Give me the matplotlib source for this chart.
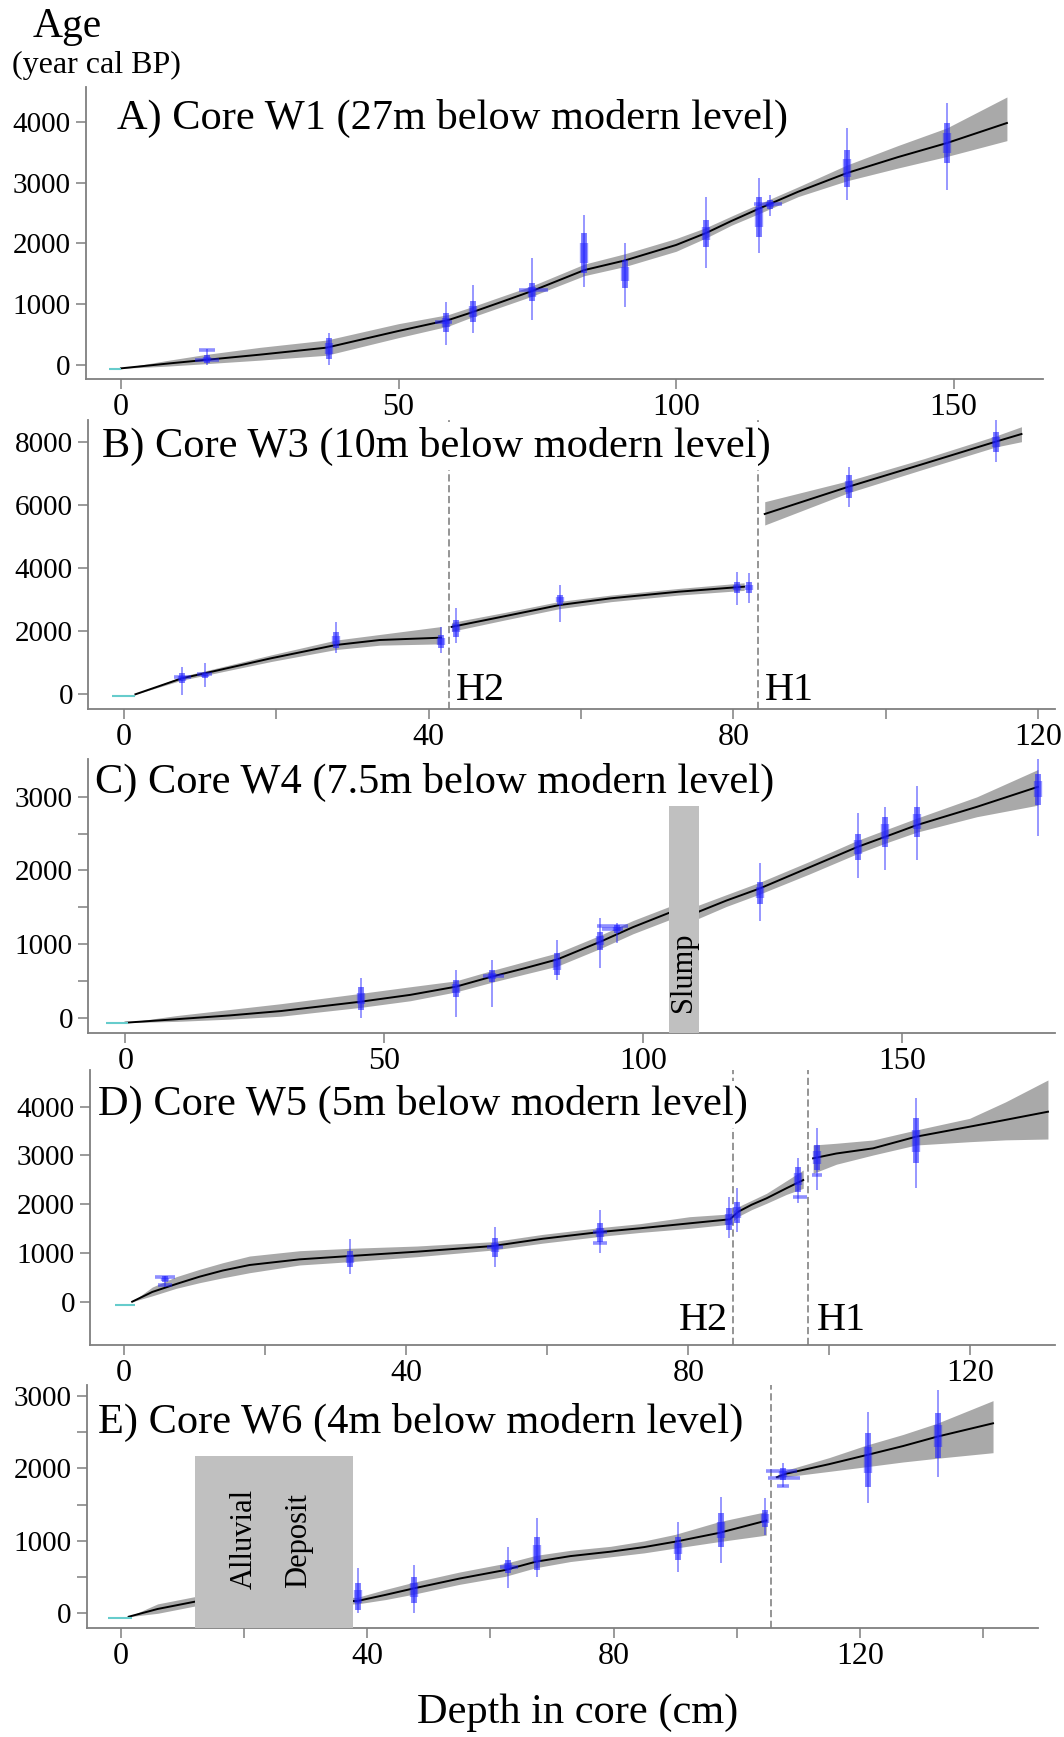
import matplotlib.pyplot as plt

plt.rcParams['font.family'] = ['Liberation Serif', 'DejaVu Serif']

W, H = 1064, 1737
BLUE = '#1f1fff'
BAND = '#a9a9a9'
TEAL = '#66cccc'

# ---------------- A) Core W1 ----------------
a_depth = [0, 8, 15, 25, 37, 50, 59, 63, 68, 74, 83.5, 90.8, 100, 105.4, 110, 115.2, 122, 130.8, 140, 148.8, 159.6]
a_mean = [-55, 20, 82, 170, 285, 560, 740, 860, 1020, 1215, 1562, 1720, 1974, 2171, 2370, 2582, 2850, 3158, 3420, 3651, 3980]
a_lo = [-55, -20, 20, 80, 160, 450, 640, 780, 940, 1130, 1470, 1620, 1870, 2090, 2300, 2500, 2770, 3030, 3240, 3430, 3690]
a_hi = [-55, 70, 170, 290, 410, 680, 830, 950, 1110, 1300, 1660, 1830, 2080, 2260, 2450, 2660, 2930, 3290, 3610, 3900, 4408]
a_dd = [15.5, 37.4, 58.5, 63.5, 74, 83.5, 90.8, 105.4, 115, 117, 130.8, 148.8]
a_thin_lo = [0, 0, 330, 525, 740, 1288, 959, 1595, 1842, 2450, 2714, 2878]
a_thin_hi = [260, 525, 1040, 1315, 1760, 2467, 2012, 2768, 3075, 2800, 3898, 4309]
a_thick_lo = [40, 100, 550, 700, 1050, 1513, 1262, 1945, 2110, 2560, 2933, 3322]
a_thick_hi = [160, 450, 850, 1050, 1350, 2171, 1727, 2385, 2768, 2720, 3536, 3980]
a_hb_from = [13.3, 14.0, 56.5, 71.7, 114.0]
a_hb_to = [17.7, 17.0, 59.6, 76.9, 119.0]
a_hb_age = [90, 250, 700, 1230, 2650]
a_top = [-2.2, 0.0, -60]

# ---------------- B) Core W3 ----------------
b1_depth = [1.5, 7.6, 10.6, 19.3, 27.8, 33.6, 41.6]
b1_mean = [0, 508, 667, 1143, 1565, 1724, 1797]
b1_lo = [0, 450, 600, 1040, 1420, 1560, 1600]
b1_hi = [0, 570, 740, 1250, 1720, 1900, 2150]
b2_depth = [43.0, 50, 57.2, 63.9, 72.8, 81.4]
b2_mean = [2140, 2480, 2835, 3047, 3257, 3416]
b2_lo = [2000, 2360, 2720, 2940, 3150, 3300]
b2_hi = [2280, 2600, 2950, 3150, 3360, 3540]
b3_depth = [84.1, 95.1, 105, 114.4, 117.8]
b3_mean = [5724, 6590, 7320, 8019, 8263]
b3_lo = [5374, 6400, 7150, 7850, 8019]
b3_hi = [6114, 6780, 7480, 8200, 8495]
b_hiatus = [42.6, 83.2]
b_hiatus_names = ['H2', 'H1']
b_dd = [7.6, 10.6, 27.8, 41.6, 43.6, 57.2, 80.5, 82.0, 95.1, 114.4]
b_thin_lo = [-22, 241, 1302, 1302, 1619, 2305, 2835, 2900, 5955, 7384]
b_thin_hi = [876, 984, 2305, 2146, 2733, 3469, 3892, 3850, 7226, 8708]
b_thick_lo = [349, 508, 1460, 1460, 1830, 2840, 3205, 3205, 6222, 7702]
b_thick_hi = [667, 667, 1990, 1880, 2357, 3157, 3575, 3575, 6962, 8337]
b_hb_from = [6.5, 9.6]
b_hb_to = [8.8, 11.6]
b_hb_age = [560, 640]
b_top = [-1.6, 1.5, -45]

# ---------------- C) Core W4 ----------------
c_depth = [0, 10, 20, 30, 45.4, 55, 63.8, 70.7, 77, 83.4, 91.7, 98, 105, 110.7, 116, 122.5, 132, 141.4, 146.7, 152.8, 164.4, 176.2]
c_mean = [-68, -20, 30, 90, 217, 310, 421, 557, 670, 792, 1032, 1230, 1425, 1440, 1590, 1756, 2040, 2321, 2457, 2616, 2864, 3136]
c_lo = [-68, -50, -20, 20, 140, 230, 350, 480, 590, 700, 940, 1140, 1330, 1350, 1510, 1680, 1950, 2230, 2370, 2520, 2730, 2887]
c_hi = [-68, 30, 110, 190, 330, 420, 500, 640, 760, 880, 1120, 1320, 1510, 1530, 1670, 1840, 2120, 2410, 2550, 2710, 3000, 3371]
c_slump = [105.0, 110.7, 2918]
c_dd = [45.4, 63.8, 70.7, 83.4, 91.7, 95, 122.5, 141.4, 146.7, 152.8, 176.2]
c_thin_lo = [0, 14, 149, 512, 671, 1010, 1308, 1891, 2003, 2136, 2471]
c_thin_hi = [535, 647, 783, 1055, 1349, 1281, 2101, 2774, 2864, 3154, 3512]
c_thick_lo = [105, 285, 489, 580, 919, 1150, 1548, 2136, 2321, 2457, 2887]
c_thick_hi = [421, 512, 647, 874, 1168, 1260, 1842, 2498, 2728, 2864, 3316]
c_hb_from = [91, 92, 69]
c_hb_to = [97, 96, 73]
c_hb_age = [1240, 1200, 560]
c_top = [-3.8, 0.4, -70]

# ---------------- D) Core W5 ----------------
d1_depth = [1.15, 4, 7.4, 10.7, 14, 17.8, 24.9, 32.0, 41.5, 52.3, 59.3, 67.5, 73.1, 80.2, 85.9, 87.1, 89, 91.1, 93.9, 96.3]
d1_mean = [0, 200, 363, 513, 640, 753, 869, 937, 1026, 1142, 1290, 1430, 1505, 1608, 1690, 1847, 1990, 2121, 2326, 2496]
d1_lo = [0, 120, 275, 390, 490, 595, 753, 821, 923, 1060, 1200, 1340, 1420, 1505, 1590, 1750, 1890, 2018, 2200, 2326]
d1_hi = [0, 300, 513, 664, 800, 937, 1046, 1095, 1142, 1231, 1380, 1520, 1600, 1744, 1800, 1950, 2080, 2224, 2480, 2701]
d2_depth = [97.7, 101, 106.2, 112.3, 119.9, 125, 131]
d2_mean = [2941, 3040, 3146, 3385, 3590, 3730, 3897]
d2_lo = [2633, 2820, 3009, 3214, 3282, 3320, 3337]
d2_hi = [3214, 3250, 3317, 3522, 3762, 4100, 4548]
d_hiatus = [86.4, 97.0]
d_hiatus_names = ['H2', 'H1']
d_dd = [5.8, 32.0, 52.6, 67.5, 85.8, 86.9, 95.5, 98.3, 112.3]
d_thin_lo = [308, 568, 718, 992, 1300, 1436, 2018, 2290, 2326]
d_thin_hi = [534, 1280, 1539, 1881, 2154, 2326, 2941, 3557, 4172]
d_thick_lo = [400, 718, 923, 1231, 1471, 1608, 2256, 2701, 2839]
d_thick_hi = [520, 1046, 1300, 1608, 1916, 2051, 2769, 3214, 3762]
d_hb_from = [4.4, 4.8, 51.5, 66.5, 66.5, 94.8, 97.6]
d_hb_to = [7.2, 6.8, 53.7, 68.5, 68.5, 96.8, 99.0]
d_hb_age = [513, 342, 1130, 1420, 1200, 2154, 2600]
d_top = [-1.3, 1.5, -70]

# ---------------- E) Core W6 ----------------
e1_depth = [1.3, 6, 12, 38.4, 43, 47.6, 55, 62.4, 67.4, 73, 79.5, 85, 90, 97.1, 104.8]
e1_mean = [-47, 60, 160, 170, 255, 345, 480, 598, 713, 790, 851, 915, 989, 1110, 1280]
e1_lo = [-47, 0, 100, 130, 190, 265, 400, 510, 630, 715, 780, 835, 900, 990, 1080]
e1_hi = [-47, 130, 230, 220, 330, 430, 570, 690, 800, 870, 925, 1000, 1090, 1265, 1405]
e2_depth = [106.5, 108.1, 115, 121.1, 127, 132.5, 141.6]
e2_mean = [1880, 1930, 2060, 2186, 2310, 2439, 2624]
e2_lo = [1860, 1887, 1960, 2025, 2090, 2141, 2218]
e2_hi = [1900, 1979, 2150, 2324, 2470, 2624, 2937]
e_hiatus = [105.6]
e_alluvial = [12.0, 37.7, 2173]
e_dd = [38.5, 47.6, 62.8, 67.6, 90.4, 97.4, 104.6, 107.5, 121.3, 132.6]
e_thin_lo = [0, 0, 345, 506, 575, 690, 1081, 1749, 1519, 1887]
e_thin_hi = [622, 667, 920, 1312, 1265, 1610, 1588, 2072, 2785, 3084]
e_thick_lo = [46, 138, 552, 598, 736, 920, 1196, 1841, 1749, 2141]
e_thick_hi = [414, 506, 736, 1058, 1058, 1381, 1427, 2003, 2486, 2762]
e_hb_from = [104.8, 105.0, 106.5, 61.5]
e_hb_to = [109.8, 110.3, 108.5, 64.5]
e_hb_age = [1960, 1870, 1760, 640]
e_top = [-2.0, 1.8, -69]


def place(fig, l, t, r, b):
    return fig.add_axes([l / W, 1 - b / H, (r - l) / W, (b - t) / H])


def style(ax, xlim, ylim, xmaj, ymaj, xmin=(), ymin=()):
    ax.set_xlim(xlim)
    ax.set_ylim(ylim)
    ax.set_xticks(xmaj)
    ax.set_yticks(ymaj)
    ax.set_xticks(list(xmin), minor=True)
    ax.set_yticks(list(ymin), minor=True)
    for s in ['top', 'right']:
        ax.spines[s].set_visible(False)
    for s in ['left', 'bottom']:
        ax.spines[s].set_color('#7f7f7f')
        ax.spines[s].set_linewidth(1.3)
    ax.tick_params(which='both', direction='out', length=7, width=1.1, color='#7f7f7f')
    ax.tick_params(axis='x', labelsize=23, pad=3)
    ax.tick_params(axis='y', labelsize=21, pad=4)
    ax.patch.set_alpha(0)


def model(ax, depth, mean, lo, hi):
    ax.fill_between(depth, lo, hi, color=BAND, lw=0, zorder=2)
    ax.plot(depth, mean, color='black', lw=1.4, zorder=3)


def dates(ax, dd, tlo, thi, klo, khi, hfrom, hto, hage, top):
    ax.vlines(dd, tlo, thi, color=BLUE, lw=1.3, alpha=0.5, zorder=4)
    ax.vlines(dd, klo, khi, color=BLUE, lw=4.2, alpha=0.6, zorder=4)
    core_lo = [lo + (hi - lo) * 0.25 for lo, hi in zip(klo, khi)]
    core_hi = [lo + (hi - lo) * 0.75 for lo, hi in zip(klo, khi)]
    ax.vlines(dd, core_lo, core_hi, color=BLUE, lw=6, alpha=0.45, zorder=4)
    ax.hlines(hage, hfrom, hto, color=BLUE, lw=2.6, alpha=0.5, zorder=4)
    ax.hlines(top[2], top[0], top[1], color=TEAL, lw=1.5, zorder=4)


def title(fig, x, y, s):
    fig.text(x / W, 1 - y / H, s, fontsize=30.5, ha='left', va='baseline', zorder=10,
             bbox=dict(facecolor='white', edgecolor='none', pad=3))


fig = plt.figure(figsize=(W / 100, H / 100), dpi=100)

# A
ax = place(fig, 86, 86.7, 1043, 379.3)
style(ax, (-6.3, 166.1), (-235, 4577), [0, 50, 100, 150], [0, 1000, 2000, 3000, 4000])
model(ax, a_depth, a_mean, a_lo, a_hi)
dates(ax, a_dd, a_thin_lo, a_thin_hi, a_thick_lo, a_thick_hi, a_hb_from, a_hb_to, a_hb_age, a_top)
title(fig, 117, 128.5, 'A) Core W1 (27m below modern level)')

# B
ax = place(fig, 88.2, 420, 1055, 709)
style(ax, (-4.7, 122.2), (-467, 8708), [0, 40, 80, 120], [0, 2000, 4000, 6000, 8000], xmin=[20, 60, 100])
model(ax, b1_depth, b1_mean, b1_lo, b1_hi)
model(ax, b2_depth, b2_mean, b2_lo, b2_hi)
model(ax, b3_depth, b3_mean, b3_lo, b3_hi)
for xh, name in zip(b_hiatus, b_hiatus_names):
    ax.axvline(xh, color='#8c8c8c', lw=1.3, ls=(0, (4, 2)), zorder=1)
    ax.text(xh + 0.9, -180, name, fontsize=29, ha='left', va='baseline')
dates(ax, b_dd, b_thin_lo, b_thin_hi, b_thick_lo, b_thick_hi, b_hb_from, b_hb_to, b_hb_age, b_top)
title(fig, 102, 456.5, 'B) Core W3 (10m below modern level)')

# C
ax = place(fig, 88.2, 759.3, 1055, 1032.7)
style(ax, (-7.2, 179.5), (-204, 3510), [0, 50, 100, 150], [0, 1000, 2000, 3000], ymin=[500, 1500, 2500])
model(ax, c_depth, c_mean, c_lo, c_hi)
dates(ax, c_dd, c_thin_lo, c_thin_hi, c_thick_lo, c_thick_hi, c_hb_from, c_hb_to, c_hb_age, c_top)
ax.fill_between([c_slump[0], c_slump[1]], -204, c_slump[2], color='#c0c0c0', lw=0, zorder=5)
ax.text((c_slump[0] + c_slump[1]) / 2, 614, 'Slump', rotation=90, fontsize=22,
        ha='center', va='center', zorder=6)
title(fig, 95, 793, 'C) Core W4 (7.5m below modern level)')

# D
ax = place(fig, 90.2, 1069.5, 1055, 1345)
style(ax, (-4.8, 132), (-888, 4763), [0, 40, 80, 120], [0, 1000, 2000, 3000, 4000], xmin=[20, 60, 100])
model(ax, d1_depth, d1_mean, d1_lo, d1_hi)
model(ax, d2_depth, d2_mean, d2_lo, d2_hi)
for xh in d_hiatus:
    ax.axvline(xh, color='#8c8c8c', lw=1.3, ls=(0, (4, 2)), zorder=1)
ax.text(d_hiatus[0] - 0.8, -580, d_hiatus_names[0], fontsize=29, ha='right', va='baseline')
ax.text(d_hiatus[1] + 1.2, -580, d_hiatus_names[1], fontsize=29, ha='left', va='baseline')
dates(ax, d_dd, d_thin_lo, d_thin_hi, d_thick_lo, d_thick_hi, d_hb_from, d_hb_to, d_hb_age, d_top)
title(fig, 98.4, 1115, 'D) Core W5 (5m below modern level)')

# E
ax = place(fig, 86.8, 1385, 1038, 1628.3)
style(ax, (-5.5, 148.9), (-207, 3153), [0, 40, 80, 120], [0, 1000, 2000, 3000],
      xmin=[20, 60, 100, 140], ymin=[500, 1500, 2500])
model(ax, e1_depth, e1_mean, e1_lo, e1_hi)
model(ax, e2_depth, e2_mean, e2_lo, e2_hi)
for xh in e_hiatus:
    ax.axvline(xh, color='#8c8c8c', lw=1.3, ls=(0, (4, 2)), zorder=1)
dates(ax, e_dd, e_thin_lo, e_thin_hi, e_thick_lo, e_thick_hi, e_hb_from, e_hb_to, e_hb_age, e_top)
ax.fill_between([e_alluvial[0], e_alluvial[1]], -207, e_alluvial[2], color='#c0c0c0', lw=0, zorder=5)
ax.text(20.0, 1026, 'Alluvial', rotation=90, fontsize=22, ha='center', va='center', zorder=6)
ax.text(28.8, 1001, 'Deposit', rotation=90, fontsize=22, ha='center', va='center', zorder=6)
title(fig, 98.4, 1433, 'E) Core W6 (4m below modern level)')

# shared labels
fig.text(33 / W, 1 - 37 / H, 'Age', fontsize=30, ha='left', va='baseline')
fig.text(12 / W, 1 - 73 / H, '(year cal BP)', fontsize=23, ha='left', va='baseline')
fig.text(578 / W, 1 - 1723 / H, 'Depth in core (cm)', fontsize=30.5, ha='center', va='baseline')

fig.savefig('out.png', dpi=100)
